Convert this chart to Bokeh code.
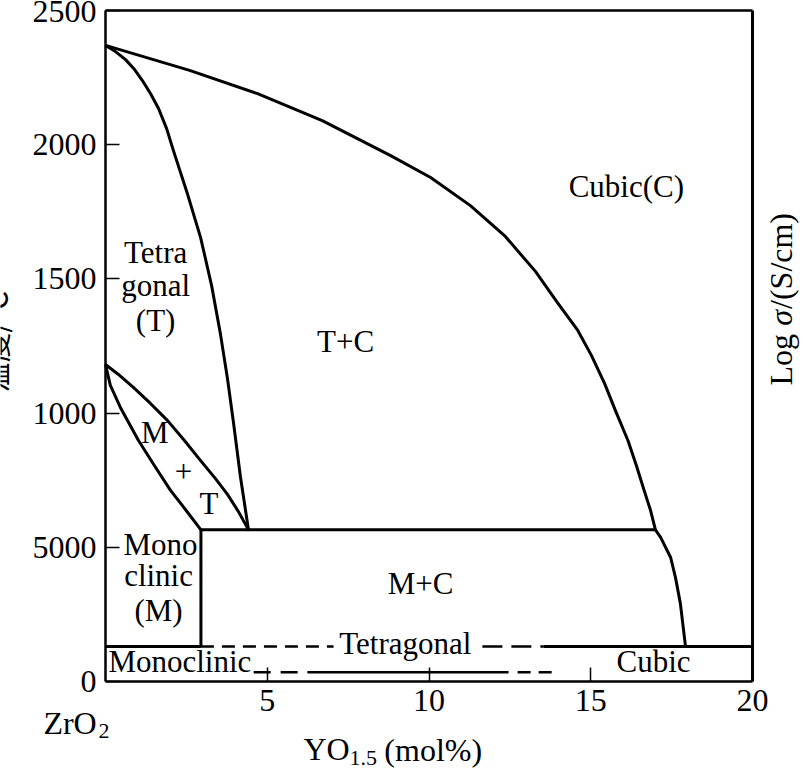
import math
from bokeh.plotting import figure
from bokeh.models import Range1d, FixedTicker, Label, LinearAxis
from bokeh.core.properties import value
from bokeh.embed import file_html
from bokeh.resources import INLINE

# ---------------- data ----------------
x_ticks = [5, 10, 15, 20]
x_tick_labels = ["5", "10", "15", "20"]
y_ticks = [0, 500, 1000, 1500, 2000, 2500]
y_tick_labels = ["0", "5000", "1000", "1500", "2000", "2500"]

# boundary of the cubic field
cubic_x = [0, 2.6, 4.7, 6.7, 8.8, 10.05, 11.28, 12.36, 13.29, 13.97, 14.6, 15.02, 15.43, 15.76,
           16.15, 16.41, 16.65, 16.85, 17.0, 17.16, 17.47, 17.62, 17.77, 17.93]
cubic_y = [2370, 2277, 2190, 2090, 1960, 1878, 1773, 1658, 1528, 1412, 1308, 1215, 1110, 1010,
           898, 805, 712, 637, 565, 537, 462, 387, 291, 130]

# tetragonal / (T+C) boundary
tet_x = [0, 0.31, 0.62, 0.90, 1.14, 1.39, 1.64, 1.89, 2.10, 2.53, 2.94, 3.28, 3.55, 3.77,
         3.96, 4.17, 4.42]
tet_y = [2370, 2347, 2317, 2280, 2239, 2191, 2135, 2060, 1978, 1818, 1654, 1475, 1297, 1129,
         961, 764, 565]

# tetragonal / (M+T) boundary
mt_up_x = [0, 0.40, 0.87, 1.39, 1.92, 2.44, 2.94, 3.40, 3.77, 4.11, 4.42]
mt_up_y = [1181, 1144, 1095, 1036, 972, 898, 823, 756, 697, 633, 565]

# monoclinic / (M+T) boundary
mt_lo_x = [0, 0.15, 0.46, 1.02, 1.51, 2.01, 2.47, 2.95]
mt_lo_y = [1181, 1103, 1021, 898, 805, 712, 641, 565]

# eutectoid line and monoclinic field edge
eut_x = [2.95, 17.0]
eut_y = [565, 565]
mono_edge_x = [2.95, 2.95]
mono_edge_y = [565, 130]

# lower strip (room temperature) lines
strip_y = 130
strip_solid_left = [0, 2.95]
strip_dash_left = [2.95, 7.05]
strip_dash_right = [11.65, 13.55]
strip_solid_right = [13.55, 20]

low_y = 34
low_dash_a = [4.58, 6.24]
low_solid = [6.24, 12.46]
low_dash_b = [12.74, 13.97]

FONT = "Liberation Serif"

# frame spans the whole canvas; the axes sit at fixed data locations
W, H = 800, 772
X0_PX, X_SCALE = 105.0, 32.35      # pixel of x=0, pixels per x unit
Y0_PX, Y_SCALE = 681.0, 671.0 / 2500.0
x_range = Range1d(-X0_PX / X_SCALE, (W - X0_PX) / X_SCALE)
y_range = Range1d((Y0_PX - H) / Y_SCALE, Y0_PX / Y_SCALE)

p = figure(width=W, height=H, output_backend="svg", toolbar_location=None,
           x_range=x_range, y_range=y_range, x_axis_location=None, y_axis_location=None,
           min_border_left=0, min_border_right=0, min_border_top=0, min_border_bottom=0)
p.background_fill_color = "white"
p.border_fill_color = "white"
p.outline_line_color = None
p.grid.visible = False


def style_axis(ax):
    ax.axis_line_color = "black"
    ax.axis_line_width = 2.5
    ax.major_tick_in = 14
    ax.major_tick_out = 0
    ax.major_tick_line_width = 1.5
    ax.major_tick_line_color = "black"
    ax.minor_tick_line_color = None
    ax.major_label_text_font = FONT
    ax.major_label_text_font_size = "32px"
    ax.major_label_text_color = "black"


xax = LinearAxis(fixed_location=0, bounds=(0, 20), ticker=FixedTicker(ticks=x_ticks),
                 major_label_overrides={t: l for t, l in zip(x_ticks, x_tick_labels)})
style_axis(xax)
xax.major_label_standoff = 8
p.add_layout(xax, "below")

yax = LinearAxis(fixed_location=0, bounds=(0, 2500), ticker=FixedTicker(ticks=y_ticks),
                 major_label_overrides={t: l for t, l in zip(y_ticks, y_tick_labels)})
style_axis(yax)
yax.major_label_standoff = 9
p.add_layout(yax, "left")

# plain border lines on the right and top
rax = LinearAxis(fixed_location=20, bounds=(0, 2500), ticker=FixedTicker(ticks=[]))
style_axis(rax)
rax.axis_line_width = 3
p.add_layout(rax, "right")
tax = LinearAxis(fixed_location=2500, bounds=(0, 20), ticker=FixedTicker(ticks=[]))
style_axis(tax)
p.add_layout(tax, "above")

LW = 3
p.line(cubic_x, cubic_y, line_color="black", line_width=LW, line_join="round")
p.line(tet_x, tet_y, line_color="black", line_width=LW, line_join="round")
p.line(mt_up_x, mt_up_y, line_color="black", line_width=LW, line_join="round")
p.line(mt_lo_x, mt_lo_y, line_color="black", line_width=LW, line_join="round")
p.line(eut_x, eut_y, line_color="black", line_width=LW)
p.line(mono_edge_x, mono_edge_y, line_color="black", line_width=LW)

p.line(strip_solid_left, [strip_y, strip_y], line_color="black", line_width=LW)
p.line(strip_dash_left, [strip_y, strip_y], line_color="black", line_width=2.5, line_dash="13 8")
p.line(strip_dash_right, [strip_y, strip_y], line_color="black", line_width=2.5, line_dash="20 9")
p.line(strip_solid_right, [strip_y, strip_y], line_color="black", line_width=LW)

p.line(low_dash_a, [low_y, low_y], line_color="black", line_width=2.5, line_dash="17 10")
p.line(low_solid, [low_y, low_y], line_color="black", line_width=2.5)
p.line(low_dash_b, [low_y, low_y], line_color="black", line_width=2.5, line_dash="13 8")

# region labels
region_text = ["Cubic(C)", "Tetra", "gonal", "(T)", "T+C", "M", "+", "T",
               "Mono", "clinic", "(M)", "M+C", "Tetragonal", "Cubic"]
region_x = [16.1, 1.55, 1.55, 1.55, 7.42, 1.52, 2.41, 3.2,
            1.70, 1.64, 1.64, 9.74, 9.27, 16.94]
region_y = [1844, 1598, 1475, 1345, 1267, 928, 782, 663,
            510, 395, 265, 365, 140, 75]
p.text(x=region_x, y=region_y, text=region_text, text_font=value(FONT),
       text_font_size="31px", text_align="center", text_baseline="middle",
       text_color="black")
p.text(x=[0.09], y=[75], text=["Monoclinic"], text_font=value(FONT),
       text_font_size="31px", text_align="left", text_baseline="middle",
       text_color="black")


def lab(x, y, t, size="32px", style="normal", angle=0.0, font=FONT):
    p.add_layout(Label(x=x, y=y, text=t, text_font=font, text_font_size=size,
                       text_font_style=style, angle=angle, text_align="left",
                       text_baseline="middle", text_color="black"))


# composition labels under the x axis
lab(-1.92, -156, "ZrO")
lab(-0.22, -184, "2", size="22px")
lab(6.12, -250, "YO")
lab(7.54, -286, "1.5", size="22px")
lab(8.62, -254, "(mol%)")

# right side label (rotated, read bottom to top)
rx = 20.87
lab(rx, 1103, "Log", angle=math.pi / 2)
lab(rx, 1103 + 222, "σ", style="italic", angle=math.pi / 2)
lab(rx, 1103 + 222 + 63, "/(S/cm)", angle=math.pi / 2)

# left axis title, mostly outside the picture as in the reference
lab(-3.46, 1077, "温度/℃", angle=math.pi / 2, size="30px", font="Noto Sans CJK SC")

open("out.html", "w").write(file_html(p, INLINE))
